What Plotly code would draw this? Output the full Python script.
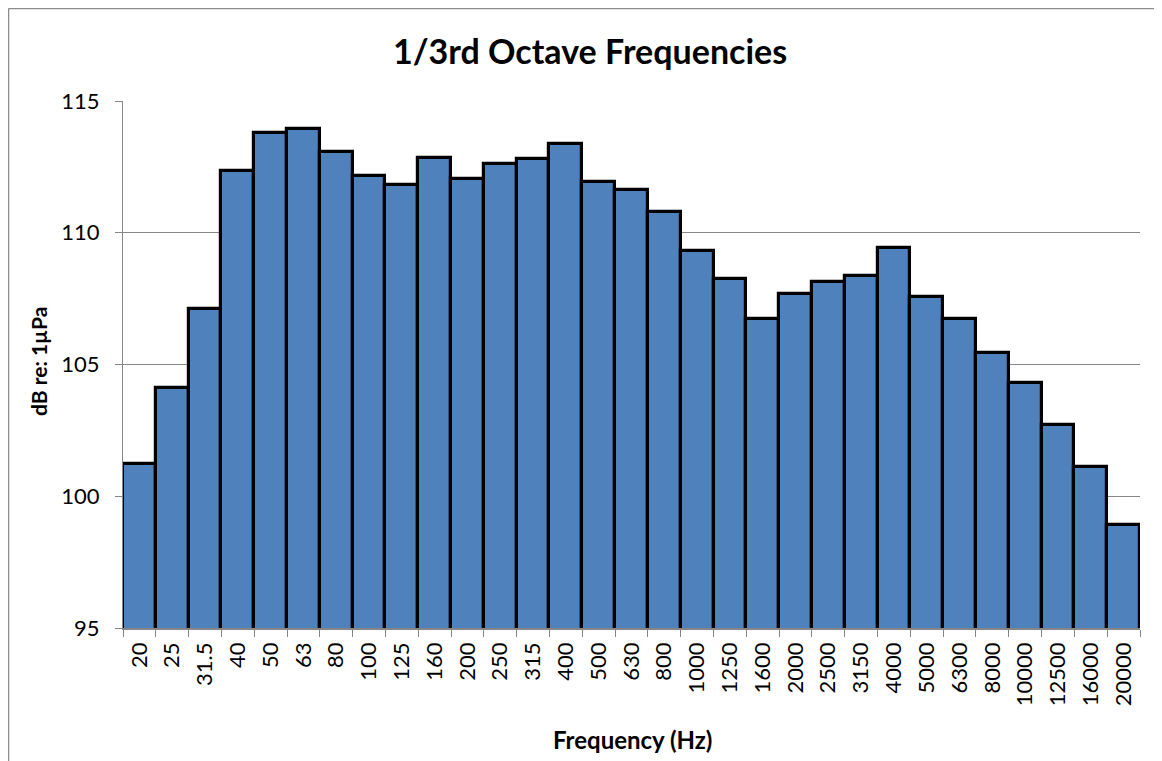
import plotly.graph_objects as go

freqs = ["20", "25", "31.5", "40", "50", "63", "80", "100", "125", "160", "200", "250",
         "315", "400", "500", "630", "800", "1000", "1250", "1600", "2000", "2500",
         "3150", "4000", "5000", "6300", "8000", "10000", "12500", "16000", "20000"]
levels = [101.24, 104.12, 107.12, 112.36, 113.80, 113.95, 113.06, 112.14, 111.82, 112.85,
          112.03, 112.61, 112.80, 113.35, 111.94, 111.61, 110.78, 109.30, 108.25, 106.73,
          107.68, 108.15, 108.34, 109.42, 107.55, 106.73, 105.43, 104.31, 102.69, 101.11,
          98.92]
y_ticks = [95, 100, 105, 110, 115]

# page is rendered with an 8px body margin; work in reference page pixels
OFF = 8
W, H = 1162 - OFF, 761 - OFF
L, R, T, B = 123 - OFF, 1140 - OFF, 101 - OFF, 628 - OFF
FONT = "Lato, 'Liberation Sans', sans-serif"

def px(x):
    return (x - OFF - L) / (R - L)

def py(y):
    return (B - (y - OFF)) / (B - T)

fig = go.Figure(go.Bar(
    x=freqs, y=levels,
    marker=dict(color="#4F81BD", line=dict(color="black", width=3.2)),
))

fig.update_layout(
    width=W, height=H,
    margin=dict(l=L, r=W - R, t=T, b=H - B, autoexpand=False),
    paper_bgcolor="white", plot_bgcolor="white",
    bargap=0, showlegend=False,
    font=dict(family=FONT, color="black"),
    annotations=[
        dict(text="<b>1/3rd Octave Frequencies</b>", x=px(590), y=py(50), xref="paper", yref="paper",
             showarrow=False, font=dict(size=34, family=FONT), xanchor="center", yanchor="middle"),
        dict(text="<b>dB re: 1µPa</b>", x=px(38), y=py(362), xref="paper", yref="paper",
             showarrow=False, textangle=-90, font=dict(size=21, family=FONT), xanchor="center", yanchor="middle"),
        dict(text="<b>Frequency (Hz)</b>", x=px(632), y=py(739), xref="paper", yref="paper",
             showarrow=False, font=dict(size=24, family=FONT), xanchor="center", yanchor="middle"),
    ],
    shapes=[
        dict(type="line", xref="paper", yref="paper", x0=px(8.5), x1=px(1162), y0=py(8.5), y1=py(8.5),
             line=dict(color="#8C8C8C", width=1.5)),
        dict(type="line", xref="paper", yref="paper", x0=px(8.5), x1=px(8.5), y0=py(8.5), y1=py(761),
             line=dict(color="#8C8C8C", width=1.5)),
    ],
)

fig.update_yaxes(
    range=[95, 115], tickvals=y_ticks, ticktext=[str(v) for v in y_ticks],
    showgrid=True, gridcolor="#868686", gridwidth=1,
    showline=True, linecolor="#868686", linewidth=1,
    ticks="outside", ticklen=7, tickcolor="#868686", ticklabelstandoff=11,
    tickfont=dict(size=22, family=FONT), zeroline=False, fixedrange=True,
)
fig.update_xaxes(
    type="category", tickson="boundaries", ticks="outside", ticklen=7, tickcolor="#868686",
    showline=True, linecolor="#868686", linewidth=1.5, ticklabelstandoff=4,
    tickangle=-90, tickfont=dict(size=22, family=FONT), showgrid=False, fixedrange=True,
)

fig.write_html("out.html")
